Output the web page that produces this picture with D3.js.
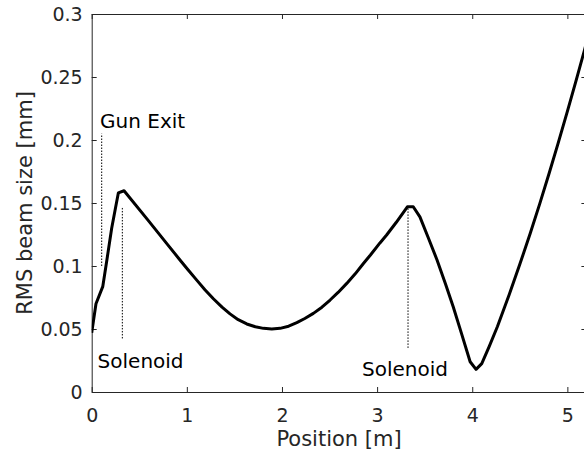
<!DOCTYPE html>
<html>
<head>
<meta charset="utf-8">
<script src="https://cdn.jsdelivr.net/npm/d3@7"></script>
<style>
  html, body { margin: 0; padding: 0; background: #fff; }
  svg { display: block; }
  text { font-family: "DejaVu Sans", "Liberation Sans", Arial, sans-serif; }
</style>
</head>
<body>
<svg id="chart" width="584" height="459"></svg>
<script>
// Beam envelope along the beamline
const positions = [0, 0.045, 0.116, 0.16, 0.21, 0.25, 0.28, 0.34, 0.6, 0.8, 0.93, 1.01, 1.104, 1.19, 1.279, 1.37, 1.454, 1.54, 1.63, 1.72, 1.805, 1.893, 1.98, 2.07, 2.156, 2.24, 2.33, 2.42, 2.506, 2.59, 2.681, 2.77, 2.856, 2.93, 3.03, 3.10, 3.2, 3.318, 3.38, 3.45, 3.54, 3.63, 3.72, 3.80, 3.89, 3.978, 4.04, 4.10, 4.18, 4.265, 4.39, 4.50, 4.61, 4.71, 4.81, 4.90, 5.0, 5.09, 5.18, 5.25];
const rmsSize = [0.047, 0.070, 0.0836, 0.105, 0.130, 0.146, 0.158, 0.1597, 0.1356, 0.1168, 0.1046, 0.0972, 0.0888, 0.0812, 0.0740, 0.0674, 0.0620, 0.0574, 0.0540, 0.0518, 0.0505, 0.0500, 0.0505, 0.0522, 0.0550, 0.0583, 0.0624, 0.0673, 0.0730, 0.0790, 0.0862, 0.0938, 0.102, 0.1087, 0.1183, 0.1246, 0.1345, 0.147, 0.147, 0.139, 0.122, 0.1048, 0.0855, 0.0677, 0.0457, 0.024, 0.018, 0.0225, 0.0364, 0.052, 0.0776, 0.1013, 0.126, 0.1495, 0.174, 0.1967, 0.2227, 0.2467, 0.2714, 0.291];

// Element markers: dotted line from markerLow to markerHigh at markerPos, label at (labelX, labelY)
const markerNames = ["Gun Exit", "Solenoid", "Solenoid"];
const markerPos = [0.105, 0.322, 3.325];
const markerLow = [0.100, 0.0425, 0.035];
const markerHigh = [0.205, 0.147, 0.147];
const labelX = [0.088, 0.062, 2.842];
const labelY = [0.215, 0.0245, 0.018];

const xTicks = [0, 1, 2, 3, 4, 5];
const yTicks = [0, 0.05, 0.1, 0.15, 0.2, 0.25, 0.3];
const xDomain = [0, 5.2];
const yDomain = [0, 0.3];

const axisColor = "#262626";
const plotLeft = 91.7, plotRight = 586.4, plotTop = 14, plotBottom = 392;

const svg = d3.select("#chart");
const x = d3.scaleLinear().domain(xDomain).range([plotLeft, plotRight]);
const y = d3.scaleLinear().domain(yDomain).range([plotBottom, plotTop]);

const fmt = d => String(+d.toFixed(2));

// Clip region for the curve
svg.append("defs").append("clipPath").attr("id", "plot-area")
  .append("rect").attr("x", plotLeft).attr("y", plotTop)
  .attr("width", plotRight - plotLeft).attr("height", plotBottom - plotTop);

// Axes (box style, ticks pointing inward)
function styleAxis(g) {
  g.attr("font-family", null);
  g.selectAll(".domain").attr("stroke", axisColor).attr("stroke-width", 1);
  g.selectAll(".tick line").attr("stroke", axisColor).attr("stroke-width", 1);
  g.selectAll(".tick text").attr("fill", axisColor);
}

const gx = svg.append("g").attr("transform", `translate(0,${plotBottom})`)
  .call(d3.axisBottom(x).tickValues(xTicks).tickSize(-5).tickSizeOuter(0).tickFormat(fmt));
gx.call(styleAxis);
gx.selectAll(".tick text").attr("y", 30).attr("dy", null).attr("font-size", 19);

const gxTop = svg.append("g").attr("transform", `translate(0,${plotTop})`)
  .call(d3.axisTop(x).tickValues(xTicks).tickSize(-5).tickSizeOuter(0).tickFormat(""));
gxTop.call(styleAxis);

const gy = svg.append("g").attr("transform", `translate(${plotLeft},0)`)
  .call(d3.axisLeft(y).tickValues(yTicks).tickSize(-5).tickSizeOuter(0).tickFormat(fmt));
gy.call(styleAxis);
gy.selectAll(".tick text").attr("x", -9).attr("dy", "0.36em").attr("font-size", 19);

const gyRight = svg.append("g").attr("transform", `translate(${plotRight},0)`)
  .call(d3.axisRight(y).tickValues(yTicks).tickSize(-5).tickSizeOuter(0).tickFormat(""));
gyRight.call(styleAxis);

// Axis labels
svg.append("text")
  .attr("x", (plotLeft + plotRight) / 2).attr("y", 446)
  .attr("text-anchor", "middle").attr("font-size", 21).attr("fill", axisColor)
  .text("Position [m]");

svg.append("text")
  .attr("transform", `translate(32,${(plotTop + plotBottom) / 2}) rotate(-90)`)
  .attr("text-anchor", "middle").attr("font-size", 21).attr("fill", axisColor)
  .text("RMS beam size [mm]");

// Element markers
markerNames.forEach((name, i) => {
  svg.append("line")
    .attr("x1", x(markerPos[i])).attr("x2", x(markerPos[i]))
    .attr("y1", y(markerLow[i])).attr("y2", y(markerHigh[i]))
    .attr("stroke", "#000").attr("stroke-width", 1)
    .attr("stroke-dasharray", "1.5,1.5");
  svg.append("text")
    .attr("x", x(labelX[i])).attr("y", y(labelY[i]))
    .attr("dy", "0.35em").attr("font-size", 20).attr("fill", "#000")
    .text(name);
});

// Beam size curve
const line = d3.line()
  .x((d, i) => x(positions[i]))
  .y(d => y(d))
  .curve(d3.curveLinear);

svg.append("path")
  .datum(rmsSize)
  .attr("clip-path", "url(#plot-area)")
  .attr("fill", "none")
  .attr("stroke", "#000")
  .attr("stroke-width", 3)
  .attr("stroke-linejoin", "round")
  .attr("d", line);
</script>
</body>
</html>
